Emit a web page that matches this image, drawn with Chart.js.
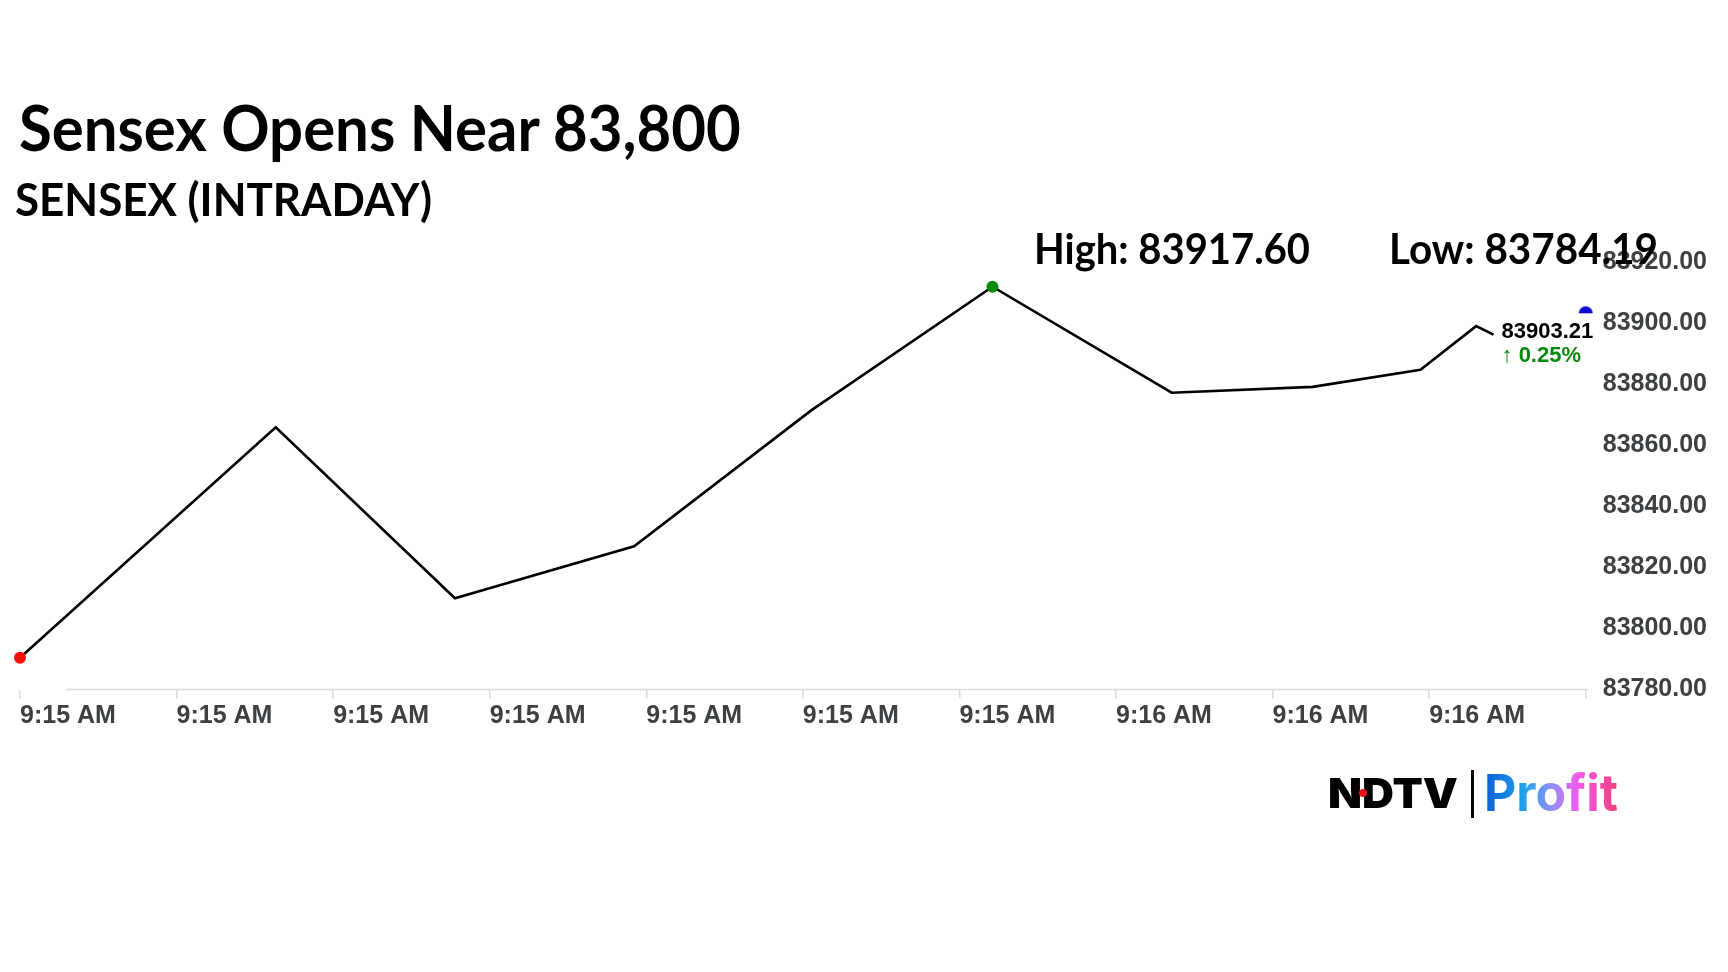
<!DOCTYPE html>
<html>
<head>
<meta charset="utf-8">
<script src="https://cdn.jsdelivr.net/npm/chart.js@4.4.1/dist/chart.umd.min.js"></script>
<style>
html,body{margin:0;padding:0;background:#fff;overflow:hidden;}
#wrap{position:relative;width:1728px;height:972px;}
#c{position:absolute;left:0;top:0;}
.txt{position:absolute;white-space:nowrap;margin:0;transform-origin:0 0;color:#000;font-weight:700;}
.cal{font-family:Lato,"Open Sans",sans-serif;}
#ndtv{font-family:Inter,"Liberation Sans",sans-serif;font-weight:900;}
#profit{font-family:Inter,"Noto Sans",sans-serif;font-weight:700;
  background:linear-gradient(90deg,#0b5fd6 0%,#22a6f0 32%,#9b8af6 52%,#fb55e8 72%,#f0407a 100%);
  -webkit-background-clip:text;background-clip:text;color:transparent;}
#bar{position:absolute;left:1471px;top:770px;width:3px;height:48px;background:#000;}
#dot{position:absolute;left:1359px;top:789px;width:8px;height:8px;border-radius:50%;background:#e8141c;}
</style>
</head>
<body>
<div id="wrap">
<canvas id="c" width="1728" height="972"></canvas>
<div class="txt cal" id="title" data-x="19" data-base="151" data-cap="46" data-w="723"></div>
<div class="txt cal" id="subtitle" data-x="15" data-base="216" data-cap="33" data-w="417">SENSEX (INTRADAY)</div>
<div class="txt cal" id="high" data-x="1034" data-base="264.5" data-cap="31" data-w="276"></div>
<div class="txt cal" id="low" data-x="1388.5" data-base="264.5" data-cap="31" data-w="269"></div>
<div class="txt" id="ndtv" data-x="1328" data-base="809" data-cap="30" data-w="130">NDTV</div>
<div id="dot"></div>
<div id="bar"></div>
<div class="txt" id="profit" data-x="1484" data-base="812" data-cap="37" data-w="134">Profit</div>
</div>
<script>
// Intraday points (seconds after 9:15:00) and index level
const timeSec=[0,14.7,25.0,35.3,45.5,55.9,66.2,74.3,80.5,83.7,84.7];
const sensexValues=[83790.4,83865.9,83809.9,83826.9,83871.5,83911.9,83877.2,83879.1,83884.7,83899.0,83896.2];
const tickLabels=['9:15 AM','9:15 AM','9:15 AM','9:15 AM','9:15 AM','9:15 AM','9:15 AM','9:16 AM','9:16 AM','9:16 AM'];
const tickStep=9;
const lastTime=90;
const lastPrice=83903.21;
const changePct=0.25;
const dayHigh=83917.60;
const dayLow=83784.19;
const yMin=83780,yMax=83920,yStep=20;

document.getElementById('title').textContent='Sensex Opens Near 83,800';
document.getElementById('high').textContent='High: '+dayHigh.toFixed(2);
document.getElementById('low').textContent='Low: '+dayLow.toFixed(2);

// size each text block by cap height, stretch to the measured width
function fitText(el){
  const cs=getComputedStyle(el);
  const fam=cs.fontFamily,wt=cs.fontWeight;
  const m=document.createElement('canvas').getContext('2d');
  m.font=wt+' 100px '+fam;
  const capRatio=m.measureText('H').actualBoundingBoxAscent/100;
  const size=(+el.dataset.cap)/capRatio;
  m.font=wt+' '+size+'px '+fam;
  const mt=m.measureText(el.textContent);
  const asc=mt.fontBoundingBoxAscent,desc=mt.fontBoundingBoxDescent;
  el.style.fontSize=size+'px';
  el.style.lineHeight=size+'px';
  const baseOff=(size-asc-desc)/2+asc;
  el.style.left=el.dataset.x+'px';
  el.style.top=(+el.dataset.base-baseOff)+'px';
  el.style.transform='scaleX('+((+el.dataset.w)/mt.width)+')';
}
function layoutTexts(){document.querySelectorAll('.txt').forEach(fitText);}
layoutTexts();
Promise.all(['700 40px Lato','900 40px Inter','700 40px Inter'].map(f=>document.fonts.load(f))).then(layoutTexts,layoutTexts);

const hiIdx=sensexValues.indexOf(Math.max(...sensexValues));

// half-disc marker for the latest price
const dome=document.createElement('canvas');
dome.width=16;dome.height=16;
const dctx=dome.getContext('2d');
dctx.fillStyle='#0a0ad2';
dctx.beginPath();dctx.arc(8,8,7,Math.PI,2*Math.PI);dctx.closePath();dctx.fill();

const axisLinePlugin={
  id:'axisLine',
  beforeDatasetsDraw(chart){
    const {ctx,chartArea}=chart;
    ctx.save();
    ctx.strokeStyle='#dcdcdc';
    ctx.lineWidth=1.5;
    ctx.beginPath();
    ctx.moveTo(chartArea.left+46,chartArea.bottom);
    ctx.lineTo(chartArea.right+2,chartArea.bottom);
    ctx.stroke();
    ctx.restore();
  }
};

const lastLabelPlugin={
  id:'lastLabel',
  afterDatasetsDraw(chart){
    const meta=chart.getDatasetMeta(0);
    const pt=meta.data[meta.data.length-1];
    const ctx=chart.ctx;
    ctx.save();
    ctx.font='bold 22px "Liberation Sans", Arial, sans-serif';
    ctx.textBaseline='middle';
    ctx.textAlign='left';
    ctx.fillStyle='#000';
    ctx.fillText(lastPrice.toFixed(2),pt.x+8,pt.y-3);
    ctx.fillStyle='#0a8a0a';
    ctx.fillText('\u2191 '+changePct.toFixed(2)+'%',pt.x+8,pt.y+21);
    ctx.restore();
  }
};

const tickFont={family:'"Liberation Sans", Arial, sans-serif',size:25,weight:'bold'};

new Chart(document.getElementById('c'),{
  type:'line',
  data:{datasets:[
    {
      data:timeSec.map((t,i)=>({x:t,y:sensexValues[i]})),
      borderColor:'#000',
      borderWidth:2.6,
      tension:0,
      clip:false,
      pointRadius:sensexValues.map((_,i)=>(i===0||i===hiIdx)?6:0),
      pointHoverRadius:0,
      pointBorderWidth:0,
      pointBackgroundColor:sensexValues.map((_,i)=>i===0?'#ff0a0a':'#0a8a0a')
    },
    {
      data:[{x:lastTime,y:lastPrice}],
      showLine:false,
      pointStyle:dome,
      pointRadius:8,
      clip:false
    }
  ]},
  options:{
    responsive:false,
    animation:false,
    layout:{padding:{top:262,left:20,right:4,bottom:237.5}},
    plugins:{legend:{display:false},tooltip:{enabled:false}},
    scales:{
      x:{
        type:'linear',
        min:0,
        max:tickStep*tickLabels.length,
        border:{display:false},
        grid:{display:true,drawOnChartArea:false,drawTicks:true,tickLength:9,color:'#dcdcdc',lineWidth:1.5},
        ticks:{
          stepSize:tickStep,
          autoSkip:false,
          maxRotation:0,
          align:'start',
          padding:3,
          color:'#3c4043',
          font:tickFont,
          callback:(v,i)=>tickLabels[i]||''
        }
      },
      y:{
        position:'right',
        min:yMin,
        max:yMax,
        border:{display:false},
        grid:{display:false,drawTicks:false},
        ticks:{
          stepSize:yStep,
          padding:17,
          color:'#3c4043',
          font:tickFont,
          callback:v=>v.toFixed(2)
        }
      }
    }
  },
  plugins:[axisLinePlugin,lastLabelPlugin]
});
</script>
</body>
</html>
